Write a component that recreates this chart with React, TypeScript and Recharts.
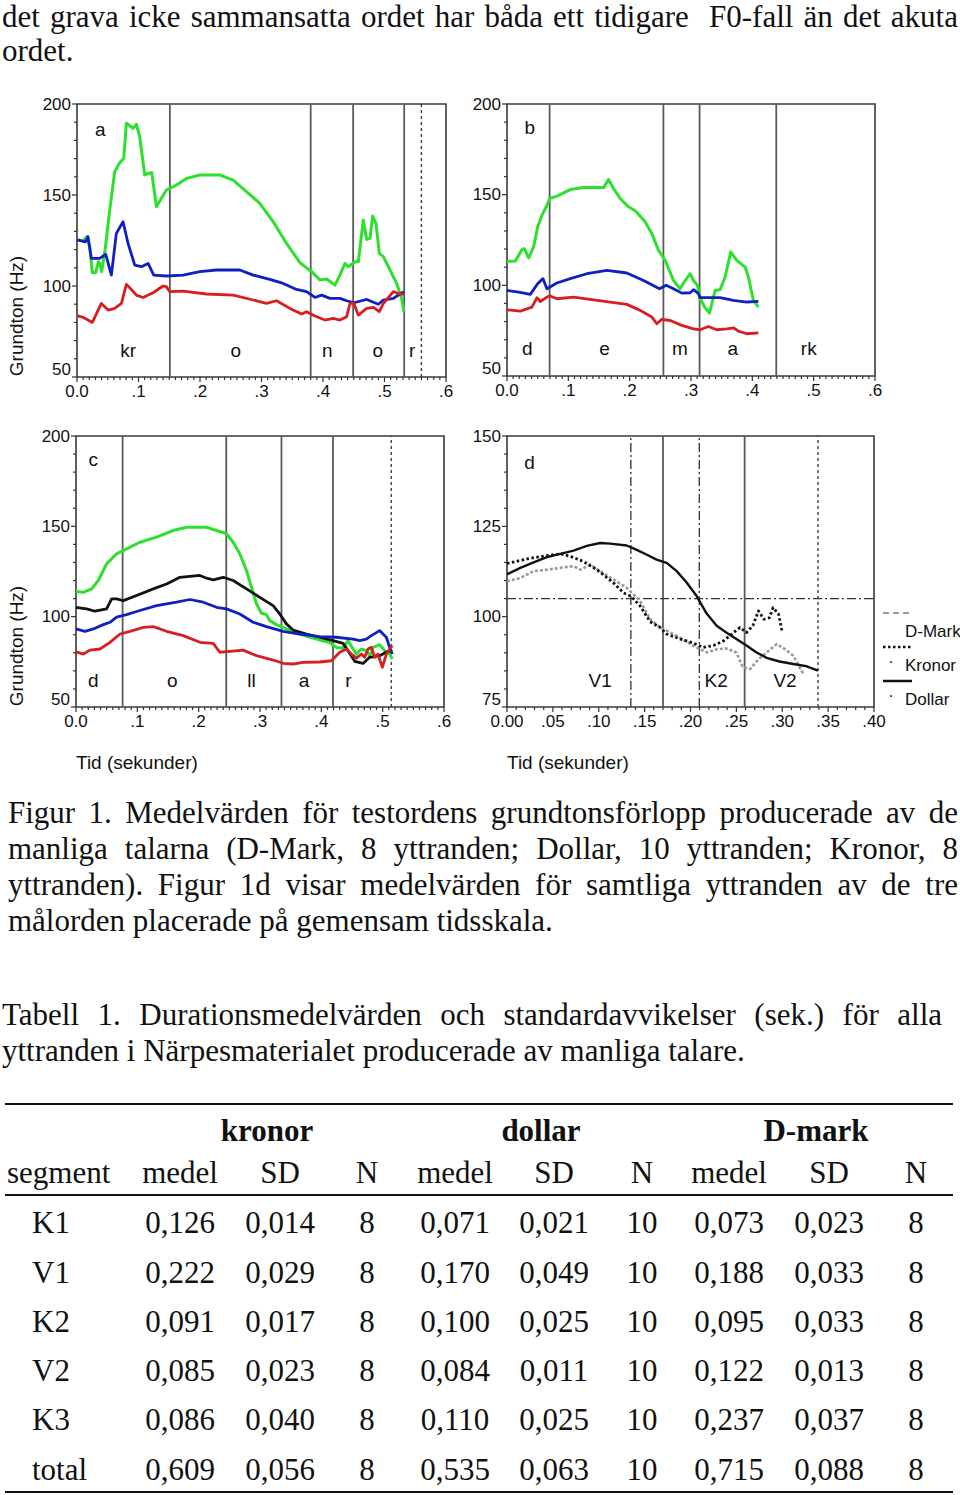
import React from 'react';
import { ComposedChart, Line, Scatter, XAxis, YAxis, ReferenceLine, ReferenceArea, Legend } from 'recharts';

type Pt = [number, number];

// ---------- Panel a (kronor) ----------
const aGreen: Pt[] = [[0,125.3],[0.0098,124.9],[0.0163,127.1],[0.0206,121.6],[0.025,107.3],[0.0304,107.3],[0.0347,113.3],[0.0369,112.4],[0.0402,107.9],[0.0456,119.8],[0.0532,141.7],[0.0613,162.8],[0.0695,167.8],[0.076,170.1],[0.0803,189.4],[0.0868,187.9],[0.0912,186.6],[0.0966,188.8],[0.102,182.0],[0.1101,161.0],[0.1156,161.9],[0.1215,162.3],[0.1291,143.6],[0.1373,148.2],[0.1454,152.7],[0.1617,155.5],[0.178,159.1],[0.1997,161.0],[0.2322,161.0],[0.2539,158.2],[0.2756,151.8],[0.2973,145.4],[0.319,135.3],[0.3407,123.4],[0.3625,112.8],[0.3814,107.9],[0.395,103.3],[0.4058,103.8],[0.4194,100.5],[0.4275,106.0],[0.4357,112.4],[0.4411,110.6],[0.452,113.3],[0.4574,113.3],[0.4655,136.2],[0.471,125.6],[0.4764,126.2],[0.4807,138.4],[0.4862,134.4],[0.4916,117.9],[0.4981,116.1],[0.509,108.8],[0.5198,101.4],[0.5279,93.2],[0.5317,85.9]];
const aBlue: Pt[] = [[0,125.3],[0.0141,124.3],[0.0179,127.1],[0.0233,115.2],[0.0369,115.2],[0.0467,117.4],[0.0559,106.0],[0.064,128.9],[0.0749,135.3],[0.083,123.4],[0.0939,111.5],[0.1047,110.6],[0.1156,112.4],[0.1248,106.0],[0.1454,105.5],[0.1725,106.0],[0.1997,107.9],[0.2268,108.8],[0.2648,108.8],[0.2865,106.0],[0.3136,103.6],[0.3353,101.4],[0.357,98.1],[0.3733,96.9],[0.3869,93.7],[0.3977,95.0],[0.4113,93.2],[0.4276,93.2],[0.4384,91.9],[0.4504,90.8],[0.471,92.6],[0.49,90.0],[0.4981,92.3],[0.5144,93.2],[0.5252,95.6],[0.5317,96.9]];
const aRed: Pt[] = [[0,83.7],[0.0098,82.8],[0.025,80.0],[0.0396,90.4],[0.0505,86.8],[0.0613,87.7],[0.0722,90.4],[0.0803,100.9],[0.0884,98.1],[0.0966,95.0],[0.1074,93.7],[0.1237,96.3],[0.14,100.0],[0.1454,99.6],[0.1508,96.9],[0.1725,97.2],[0.2105,95.6],[0.2539,95.0],[0.2865,92.3],[0.3082,90.4],[0.3245,91.9],[0.3462,87.7],[0.3652,84.6],[0.3733,85.9],[0.3869,83.5],[0.4031,81.3],[0.4167,82.2],[0.4276,81.3],[0.4384,83.1],[0.4438,90.4],[0.4504,90.4],[0.4574,84.0],[0.471,87.7],[0.4818,88.3],[0.4916,85.9],[0.4981,90.4],[0.5144,96.9],[0.5252,95.6],[0.5317,95.6]];
const aBounds = [0.151, 0.38, 0.449, 0.532];
const aBoundsDashed = [0.56];
const aSegText = ['kr', 'o', 'n', 'o', 'r'];
const aSegT = [0.083, 0.258, 0.407, 0.489, 0.545];

// ---------- Panel b (dollar) ----------
const bGreen: Pt[] = [[0,113.2],[0.0136,113.4],[0.0244,119.7],[0.0282,120.2],[0.0353,115.1],[0.0434,121.2],[0.0499,132.2],[0.057,138.7],[0.0641,143.3],[0.0695,147.9],[0.0814,149.2],[0.1031,152.8],[0.1249,153.9],[0.1412,153.9],[0.1574,153.9],[0.1656,158.4],[0.1737,153.4],[0.1846,147.9],[0.1982,143.3],[0.209,141.1],[0.2253,135.0],[0.2362,128.5],[0.247,119.3],[0.2579,113.8],[0.2714,102.7],[0.2823,98.1],[0.2888,101.8],[0.2986,106.4],[0.304,102.7],[0.3105,100.0],[0.3149,92.6],[0.323,87.6],[0.3301,84.7],[0.3393,97.2],[0.3474,97.6],[0.3556,104.6],[0.3648,118.4],[0.3746,113.8],[0.3882,110.1],[0.3936,104.6],[0.4017,91.7],[0.4099,88.0]];
const bBlue: Pt[] = [[0,97.2],[0.019,96.3],[0.038,95.0],[0.0499,100.9],[0.0586,103.7],[0.0651,98.1],[0.0814,101.3],[0.1031,103.7],[0.1303,106.4],[0.1629,108.3],[0.1954,106.8],[0.2226,102.7],[0.2486,98.1],[0.2595,100.0],[0.2714,98.1],[0.285,95.7],[0.2986,95.9],[0.304,97.6],[0.3122,95.4],[0.3149,93.2],[0.3474,93.2],[0.3692,91.7],[0.3909,90.8],[0.4099,91.1]];
const bRed: Pt[] = [[0,86.5],[0.0217,85.8],[0.0407,88.0],[0.0489,93.2],[0.0543,91.1],[0.0651,93.5],[0.0695,94.3],[0.0814,92.6],[0.1086,93.5],[0.1412,92.0],[0.1683,90.8],[0.1954,89.5],[0.2172,86.2],[0.2362,82.5],[0.2443,78.8],[0.2524,81.2],[0.266,80.6],[0.285,77.9],[0.304,76.0],[0.3149,75.5],[0.3284,77.3],[0.342,75.5],[0.3583,76.0],[0.3692,76.6],[0.3773,74.7],[0.3909,73.3],[0.4099,73.8]];
const bBounds = [0.0695, 0.255, 0.314, 0.439];
const bSegText = ['d', 'e', 'm', 'a', 'rk'];
const bSegT = [0.033, 0.159, 0.282, 0.368, 0.492];

// ---------- Panel c (dollar) ----------
const cGreen: Pt[] = [[0,113.9],[0.0119,113.5],[0.0255,115.4],[0.0364,120.0],[0.0499,129.2],[0.0662,134.8],[0.0825,137.5],[0.1042,141.2],[0.1314,144.0],[0.1585,147.7],[0.1802,149.5],[0.2128,149.5],[0.2291,147.7],[0.2454,145.9],[0.2562,141.2],[0.2671,134.8],[0.278,125.5],[0.2861,116.3],[0.2943,107.0],[0.3024,101.9],[0.3105,101.1],[0.316,97.8],[0.3268,95.6],[0.3431,93.2],[0.3648,90.4],[0.392,87.6],[0.4137,85.7],[0.4245,83.0],[0.4354,82.7],[0.4435,86.7],[0.4517,82.1],[0.4571,79.3],[0.4653,82.1],[0.4734,81.2],[0.4788,78.4],[0.4843,83.0],[0.4951,84.5],[0.5033,81.2],[0.5114,79.3],[0.5157,76.6]];
const cBlack: Pt[] = [[0,105.2],[0.0174,104.3],[0.0309,103.0],[0.0499,104.3],[0.0581,109.8],[0.0662,109.8],[0.0771,108.9],[0.0988,111.7],[0.126,115.4],[0.1477,118.1],[0.1694,121.8],[0.202,122.8],[0.2128,121.3],[0.2237,120.4],[0.24,121.8],[0.2562,120.0],[0.278,115.4],[0.2997,110.7],[0.3214,106.1],[0.3322,101.5],[0.3431,96.0],[0.354,92.6],[0.3757,90.4],[0.3974,88.6],[0.4191,86.7],[0.4354,85.2],[0.4435,81.2],[0.4544,75.3],[0.468,74.1],[0.4788,77.5],[0.4951,78.4],[0.5087,80.8],[0.5157,81.2]];
const cBlue: Pt[] = [[0,93.2],[0.0147,91.9],[0.0282,93.2],[0.0445,95.6],[0.0554,96.9],[0.0662,99.7],[0.0825,101.1],[0.1042,103.4],[0.1314,106.1],[0.164,108.0],[0.1857,109.5],[0.2074,108.0],[0.2291,105.2],[0.2454,104.3],[0.2671,101.5],[0.2888,96.9],[0.3105,94.5],[0.3377,91.9],[0.3648,90.4],[0.3974,88.9],[0.4245,88.6],[0.4517,87.6],[0.4625,86.7],[0.4734,87.6],[0.4815,89.5],[0.4951,92.3],[0.5005,90.4],[0.506,88.6],[0.5114,83.0],[0.5157,79.3]];
const cRed: Pt[] = [[0,80.6],[0.0119,79.3],[0.0228,81.5],[0.0391,82.1],[0.0554,85.8],[0.0717,90.4],[0.0879,91.9],[0.1097,94.1],[0.126,94.5],[0.1477,91.9],[0.1748,89.5],[0.202,85.8],[0.2237,85.2],[0.2345,80.3],[0.2508,80.8],[0.2725,81.5],[0.2943,78.4],[0.3214,76.0],[0.3377,74.2],[0.354,73.8],[0.3702,74.7],[0.3974,74.9],[0.4164,75.6],[0.43,80.3],[0.4408,82.1],[0.449,79.3],[0.4571,77.1],[0.4653,79.3],[0.4707,77.5],[0.4761,82.1],[0.4815,83.0],[0.487,77.5],[0.4924,79.3],[0.4995,71.9],[0.506,79.3],[0.5114,82.1],[0.5157,84.0]];
const cBounds = [0.076, 0.245, 0.335, 0.419];
const cBoundsDotted = [0.514];
const cSegText = ['d', 'o', 'll', 'a', 'r'];
const cSegT = [0.028, 0.157, 0.286, 0.372, 0.444];

// ---------- Panel d (all words, common time scale) ----------
const dDollar: Pt[] = [[0,111.7],[0.0145,113.5],[0.029,115.0],[0.0435,116.5],[0.058,117.4],[0.0725,118.3],[0.087,119.6],[0.1015,120.4],[0.1124,120.2],[0.1305,119.7],[0.1414,118.5],[0.152,117.2],[0.163,115.8],[0.174,114.9],[0.185,112.6],[0.196,109.4],[0.2067,105.7],[0.217,101.1],[0.2285,97.5],[0.239,95.6],[0.25,93.8],[0.261,92.0],[0.272,90.1],[0.283,88.6],[0.297,87.6],[0.312,86.9],[0.326,86.3],[0.339,85.1]];
const dKronor: Pt[] = [[0,114.7],[0.0218,116.0],[0.0435,116.9],[0.058,117.4],[0.069,116.7],[0.083,115.3],[0.098,113.0],[0.116,109.4],[0.127,106.6],[0.135,105.7],[0.145,103.0],[0.156,98.6],[0.167,97.0],[0.174,95.2],[0.189,93.8],[0.203,92.7],[0.214,91.5],[0.225,92.0],[0.236,93.3],[0.247,95.6],[0.254,97.0],[0.261,95.6],[0.268,97.5],[0.274,101.6],[0.28,99.3],[0.286,99.7],[0.29,102.5],[0.296,100.7],[0.3,95.6]];
const dDMark: Pt[] = [[0,109.8],[0.0145,110.7],[0.029,112.6],[0.0435,113.0],[0.058,113.5],[0.0725,114.0],[0.08,113.0],[0.091,114.4],[0.1015,112.6],[0.116,110.3],[0.1305,108.0],[0.145,104.4],[0.156,99.3],[0.167,97.0],[0.185,94.7],[0.203,92.0],[0.2176,90.1],[0.2285,91.0],[0.239,91.2],[0.25,90.1],[0.257,86.0],[0.265,85.5],[0.274,88.2],[0.283,90.1],[0.294,92.4],[0.303,91.0],[0.312,89.2],[0.323,84.2]];
const dBoundsSolid = [0.17, 0.259];
const dBoundsDashDot = [0.135, 0.2096];
const dBoundsDotted = [0.339];
const dHorizontal = 105;
const dSegText = ['V1', 'K2', 'V2'];
const dSegT = [0.1015, 0.228, 0.303];
const dSeriesNames = ['D-Mark', 'Kronor', 'Dollar'];

// ---------- Axes ----------
const xMajorABC = [0, 0.1, 0.2, 0.3, 0.4, 0.5, 0.6];
const xLabelsABC = ['0.0', '.1', '.2', '.3', '.4', '.5', '.6'];
const xMinorABC = Array.from({ length: 61 }, (_, i) => +(i * 0.01).toFixed(2));
const xMajorD = [0, 0.05, 0.1, 0.15, 0.2, 0.25, 0.3, 0.35, 0.4];
const xLabelsD = ['0.00', '.05', '.10', '.15', '.20', '.25', '.30', '.35', '.40'];
const xMinorD = Array.from({ length: 41 }, (_, i) => +(i * 0.01).toFixed(2));
const yMajorABC = [50, 100, 150, 200];
const yLabelsABC = ['50', '100', '150', '200'];
const yMinorABC = Array.from({ length: 16 }, (_, i) => 50 + i * 10);
const yMajorD = [75, 100, 125, 150];
const yLabelsD = ['75', '100', '125', '150'];
const yMinorD = Array.from({ length: 16 }, (_, i) => 75 + i * 5);

// ---------- Page text ----------
const introLines = ['det grava icke sammansatta ordet har båda ett tidigare\u00a0 F0-fall än det akuta', 'ordet.'];
const captionLines = [
  'Figur 1. Medelvärden för testordens grundtonsförlopp producerade av de',
  'manliga talarna (D-Mark, 8 yttranden; Dollar, 10 yttranden; Kronor, 8',
  'yttranden). Figur 1d visar medelvärden för samtliga yttranden av de tre',
  'målorden placerade på gemensam tidsskala.',
];
const tableTitleLines = [
  'Tabell 1. Durationsmedelvärden och standardavvikelser (sek.) för alla',
  'yttranden i Närpesmaterialet producerade av manliga talare.',
];
const tableGroups = ['kronor', 'dollar', 'D-mark'];
const tableColHeads = ['medel', 'SD', 'N', 'medel', 'SD', 'N', 'medel', 'SD', 'N'];
const tableSegments = ['K1', 'V1', 'K2', 'V2', 'K3', 'total'];
const tableRows = [
  ['0,126', '0,014', '8', '0,071', '0,021', '10', '0,073', '0,023', '8'],
  ['0,222', '0,029', '8', '0,170', '0,049', '10', '0,188', '0,033', '8'],
  ['0,091', '0,017', '8', '0,100', '0,025', '10', '0,095', '0,033', '8'],
  ['0,085', '0,023', '8', '0,084', '0,011', '10', '0,122', '0,013', '8'],
  ['0,086', '0,040', '8', '0,110', '0,025', '10', '0,237', '0,037', '8'],
  ['0,609', '0,056', '8', '0,535', '0,063', '10', '0,715', '0,088', '8'],
];

const GREEN = '#2ee02e';
const BLUE = '#1020c0';
const RED = '#d81e1e';
const SANS = '"Liberation Sans", Arial, Helvetica, sans-serif';
const SERIF = '"Liberation Serif", "Times New Roman", Times, serif';

const toData = (pts: Pt[]) => pts.map(([t, v]) => ({ t, v }));
const toLabels = (texts: string[], ts: number[], v: number) => texts.map((text, i) => ({ t: ts[i], v, text }));

const near = (a: number, b: number) => Math.abs(a - b) < 1e-6;

const makeXTick = (majors: number[], labels: string[]) => (p: any) => {
  const v = p.payload.value;
  const idx = majors.findIndex((m) => near(m, v));
  return (
    <g key={`xt-${v}`}>
      <line x1={p.x} x2={p.x} y1={p.y} y2={p.y + (idx >= 0 ? 5 : 3)} stroke="#333" strokeWidth={1.2} />
      {idx >= 0 && (
        <text x={p.x} y={p.y + 14} textAnchor="middle" dominantBaseline="central" fontSize={17} fontFamily={SANS} fill="#111">
          {labels[idx]}
        </text>
      )}
    </g>
  );
};

const makeYTick = (majors: number[], labels: string[], min: number) => (p: any) => {
  const v = p.payload.value;
  const idx = majors.findIndex((m) => near(m, v));
  return (
    <g key={`yt-${v}`}>
      <line x1={p.x} x2={p.x - (idx >= 0 ? 5 : 3)} y1={p.y} y2={p.y} stroke="#333" strokeWidth={1.2} />
      {idx >= 0 && (
        <text x={p.x - 6} y={near(v, min) ? p.y - 8 : p.y} textAnchor="end" dominantBaseline="central" fontSize={17} fontFamily={SANS} fill="#111">
          {labels[idx]}
        </text>
      )}
    </g>
  );
};

const labelShape = (props: any) => {
  const { cx, cy, payload } = props;
  return (
    <text x={cx} y={cy} textAnchor="middle" dominantBaseline="central" fontSize={19} fontFamily={SANS} fill="#111">
      {payload.text}
    </text>
  );
};

type Series = { data: Pt[]; stroke: string; width: number; dash?: string; name: string };
type Bound = { t: number; kind: 'solid' | 'dotted' | 'dashdot' };

type PanelProps = {
  left: number; top: number; plotW: number; plotH: number;
  extraRight?: number; extraBottom?: number;
  xDomain: [number, number]; yDomain: [number, number];
  xMajor: number[]; xLabels: string[]; xMinor: number[];
  yMajor: number[]; yLabels: string[]; yMinor: number[];
  series: Series[]; bounds: Bound[]; labels: { t: number; v: number; text: string }[];
  yTitle?: { dx: number; dy: number }; xTitle?: boolean; hLine?: number; legend?: React.ReactNode;
};

const Y_W = 70;
const X_H = 30;
const M_TOP = 12;
const M_RIGHT = 14;

function Panel(props: PanelProps) {
  const { left, top, plotW, plotH, extraRight = 0, extraBottom = 0 } = props;
  const width = Y_W + plotW + M_RIGHT + extraRight;
  const height = M_TOP + plotH + X_H + extraBottom;
  const dashFor = (k: Bound['kind']) => (k === 'dotted' ? '3 3' : k === 'dashdot' ? '9 3 2 3' : undefined);
  return (
    <div style={{ position: 'absolute', left, top, width, height }}>
      <ComposedChart
        width={width}
        height={height}
        margin={{ top: M_TOP, right: M_RIGHT + extraRight, bottom: extraBottom, left: 0 }}
        style={{ fontFamily: SANS }}
      >
        <XAxis
          type="number"
          dataKey="t"
          domain={props.xDomain}
          ticks={props.xMinor}
          interval={0}
          tickSize={0}
          tickMargin={0}
          tickLine={false}
          axisLine={false}
          height={X_H}
          tick={makeXTick(props.xMajor, props.xLabels)}
          label={
            props.xTitle
              ? (lp: any) => {
                  const vb = lp.viewBox || {};
                  return (
                    <text x={vb.x} y={vb.y + 55} textAnchor="start" dominantBaseline="central" fontSize={19} fontFamily={SANS} fill="#111">
                      Tid (sekunder)
                    </text>
                  );
                }
              : undefined
          }
        />
        <YAxis
          type="number"
          domain={props.yDomain}
          ticks={props.yMinor}
          interval={0}
          tickSize={0}
          tickMargin={0}
          tickLine={false}
          axisLine={false}
          width={Y_W}
          tick={makeYTick(props.yMajor, props.yLabels, props.yDomain[0])}
          label={
            props.yTitle
              ? (lp: any) => {
                  const vb = lp.viewBox || {};
                  const cx = vb.x + props.yTitle!.dx;
                  const cy = vb.y + props.yTitle!.dy;
                  return (
                    <text x={cx} y={cy} transform={`rotate(-90 ${cx} ${cy})`} textAnchor="middle" dominantBaseline="central" fontSize={19} fontFamily={SANS} fill="#111">
                      Grundton (Hz)
                    </text>
                  );
                }
              : undefined
          }
        />
        <ReferenceArea x1={props.xDomain[0]} x2={props.xDomain[1]} y1={props.yDomain[0]} y2={props.yDomain[1]} fill="none" fillOpacity={0} stroke="#3a3a3a" strokeWidth={1.6} />
        {props.bounds.map((b, i) => (
          <ReferenceLine key={`b${i}`} x={b.t} stroke={b.kind === 'solid' ? '#5a5a5a' : '#333'} strokeWidth={b.kind === 'solid' ? 1.8 : 1.3} strokeDasharray={dashFor(b.kind)} />
        ))}
        {props.hLine !== undefined && <ReferenceLine y={props.hLine} stroke="#333" strokeWidth={1.3} strokeDasharray="9 3 2 3" />}
        {props.series.map((s, i) => (
          <Line
            key={`s${i}`}
            data={toData(s.data)}
            dataKey="v"
            name={s.name}
            type="linear"
            dot={false}
            activeDot={false}
            stroke={s.stroke}
            strokeWidth={s.width}
            strokeDasharray={s.dash}
            strokeLinejoin="round"
            isAnimationActive={false}
            legendType="none"
          />
        ))}
        <Scatter data={props.labels} dataKey="v" shape={labelShape} isAnimationActive={false} legendType="none" />
        {props.legend}
      </ComposedChart>
    </div>
  );
}

function DLegend() {
  const styles = [
    { stroke: '#9a9a9a', dash: '6 4', width: 2 },
    { stroke: '#111', dash: '2.5 2.5', width: 2.5 },
    { stroke: '#111', dash: undefined as string | undefined, width: 2.5 },
  ];
  return (
    <svg width={80} height={110} style={{ overflow: 'visible', display: 'block' }}>
      {dSeriesNames.map((n, i) => {
        const ly = 13 + i * 34;
        return (
          <g key={n}>
            <line x1={0} x2={29} y1={ly} y2={ly} stroke={styles[i].stroke} strokeWidth={styles[i].width} strokeDasharray={styles[i].dash} />
            {i > 0 && <text x={8} y={ly + 14} textAnchor="middle" dominantBaseline="central" fontSize={16} fontFamily={SANS} fill="#111">·</text>}
            <text x={22} y={ly + 18} textAnchor="start" dominantBaseline="central" fontSize={17} fontFamily={SANS} fill="#111">{n}</text>
          </g>
        );
      })}
    </svg>
  );
}

const colCenters = [180, 280, 367, 455, 554, 642, 729, 829, 916];
const groupCenters = [267, 541, 816];
const rowBaselines = [1233, 1283, 1332, 1381, 1430, 1480];

function Cell({ x, baseline, text, bold, align = 'center' }: { x: number; baseline: number; text: string; bold?: boolean; align?: 'center' | 'left' }) {
  const style: React.CSSProperties = {
    position: 'absolute',
    top: baseline - 28.5,
    height: 36,
    lineHeight: '36px',
    fontSize: 31,
    fontWeight: bold ? 700 : 400,
    whiteSpace: 'nowrap',
  };
  if (align === 'center') {
    style.left = x - 80;
    style.width = 160;
    style.textAlign = 'center';
  } else {
    style.left = x;
  }
  return <div style={style}>{text}</div>;
}

function Para({ left, top, width, lines, lineHeight }: { left: number; top: number; width: number; lines: string[]; lineHeight: number }) {
  return (
    <div style={{ position: 'absolute', left, top, width, fontSize: 31, lineHeight: `${lineHeight}px` }}>
      {lines.map((l, i) => (
        <div key={i} style={{ textAlign: 'justify', textAlignLast: i < lines.length - 1 ? 'justify' : 'left', height: lineHeight }}>
          {l}
        </div>
      ))}
    </div>
  );
}

export default function App() {
  return (
    <div style={{ position: 'absolute', left: 0, top: 0, width: 960, height: 1495, background: '#fff', fontFamily: SERIF, color: '#111', overflow: 'hidden' }}>
      <Para left={2} top={0} width={956} lines={introLines} lineHeight={34} />

      <Panel
        left={7} top={92} plotW={369} plotH={273}
        xDomain={[0, 0.6]} yDomain={[50, 200]}
        xMajor={xMajorABC} xLabels={xLabelsABC} xMinor={xMinorABC}
        yMajor={yMajorABC} yLabels={yLabelsABC} yMinor={yMinorABC}
        series={[
          { data: aGreen, stroke: GREEN, width: 3, name: 'green' },
          { data: aBlue, stroke: BLUE, width: 2.8, name: 'blue' },
          { data: aRed, stroke: RED, width: 2.8, name: 'red' },
        ]}
        bounds={[...aBounds.map((t) => ({ t, kind: 'solid' as const })), ...aBoundsDashed.map((t) => ({ t, kind: 'dotted' as const }))]}
        labels={[...toLabels(aSegText, aSegT, 64.8), { t: 0.038, v: 186, text: 'a' }]}
        yTitle={{ dx: 9, dy: 212 }}
      />

      <Panel
        left={437} top={92} plotW={368} plotH={272}
        xDomain={[0, 0.6]} yDomain={[50, 200]}
        xMajor={xMajorABC} xLabels={xLabelsABC} xMinor={xMinorABC}
        yMajor={yMajorABC} yLabels={yLabelsABC} yMinor={yMinorABC}
        series={[
          { data: bGreen, stroke: GREEN, width: 3, name: 'green' },
          { data: bBlue, stroke: BLUE, width: 2.8, name: 'blue' },
          { data: bRed, stroke: RED, width: 2.8, name: 'red' },
        ]}
        bounds={bBounds.map((t) => ({ t, kind: 'solid' as const }))}
        labels={[...toLabels(bSegText, bSegT, 65.4), { t: 0.037, v: 187, text: 'b' }]}
      />

      <Panel
        left={6} top={424} plotW={368} plotH={271} extraBottom={38}
        xDomain={[0, 0.6]} yDomain={[50, 200]}
        xMajor={xMajorABC} xLabels={xLabelsABC} xMinor={xMinorABC}
        yMajor={yMajorABC} yLabels={yLabelsABC} yMinor={yMinorABC}
        series={[
          { data: cGreen, stroke: GREEN, width: 3, name: 'green' },
          { data: cBlack, stroke: '#111', width: 2.8, name: 'black' },
          { data: cBlue, stroke: BLUE, width: 2.8, name: 'blue' },
          { data: cRed, stroke: RED, width: 2.8, name: 'red' },
        ]}
        bounds={[...cBounds.map((t) => ({ t, kind: 'solid' as const })), ...cBoundsDotted.map((t) => ({ t, kind: 'dotted' as const }))]}
        labels={[...toLabels(cSegText, cSegT, 64.5), { t: 0.028, v: 187, text: 'c' }]}
        yTitle={{ dx: 10, dy: 210 }}
        xTitle
      />

      <Panel
        left={437} top={424} plotW={367} plotH={271} extraRight={72} extraBottom={38}
        xDomain={[0, 0.4]} yDomain={[75, 150]}
        xMajor={xMajorD} xLabels={xLabelsD} xMinor={xMinorD}
        yMajor={yMajorD} yLabels={yLabelsD} yMinor={yMinorD}
        series={[
          { data: dDMark, stroke: '#9a9a9a', width: 2.6, dash: '3 2', name: dSeriesNames[0] },
          { data: dKronor, stroke: '#111', width: 2.8, dash: '2.5 2.5', name: dSeriesNames[1] },
          { data: dDollar, stroke: '#111', width: 2.4, name: dSeriesNames[2] },
        ]}
        bounds={[
          ...dBoundsSolid.map((t) => ({ t, kind: 'solid' as const })),
          ...dBoundsDashDot.map((t) => ({ t, kind: 'dashdot' as const })),
          ...dBoundsDotted.map((t) => ({ t, kind: 'dotted' as const })),
        ]}
        hLine={dHorizontal}
        labels={[...toLabels(dSegText, dSegT, 82.3), { t: 0.0247, v: 142.8, text: 'd' }]}
        xTitle
        legend={
          <Legend
            layout="horizontal"
            verticalAlign="middle"
            align="center"
            content={() => <DLegend />}
            wrapperStyle={{ left: 446, top: 176, width: 80, height: 110 }}
          />
        }
      />

      <Para left={8} top={795} width={950} lines={captionLines} lineHeight={36} />
      <Para left={2} top={997} width={940} lines={tableTitleLines} lineHeight={36} />

      <div style={{ position: 'absolute', left: 5, top: 1103, width: 948, height: 2, background: '#111' }} />
      {tableGroups.map((g, i) => (
        <Cell key={g} x={groupCenters[i]} baseline={1141} text={g} bold />
      ))}
      <Cell x={7} baseline={1183} text="segment" align="left" />
      {tableColHeads.map((h, i) => (
        <Cell key={`h${i}`} x={colCenters[i]} baseline={1183} text={h} />
      ))}
      <div style={{ position: 'absolute', left: 5, top: 1194, width: 948, height: 2, background: '#111' }} />
      {tableRows.map((row, r) => (
        <React.Fragment key={`r${r}`}>
          <Cell x={32} baseline={rowBaselines[r]} text={tableSegments[r]} align="left" />
          {row.map((v, c) => (
            <Cell key={`c${r}-${c}`} x={colCenters[c]} baseline={rowBaselines[r]} text={v} />
          ))}
        </React.Fragment>
      ))}
      <div style={{ position: 'absolute', left: 5, top: 1491, width: 948, height: 2, background: '#111' }} />
    </div>
  );
}
